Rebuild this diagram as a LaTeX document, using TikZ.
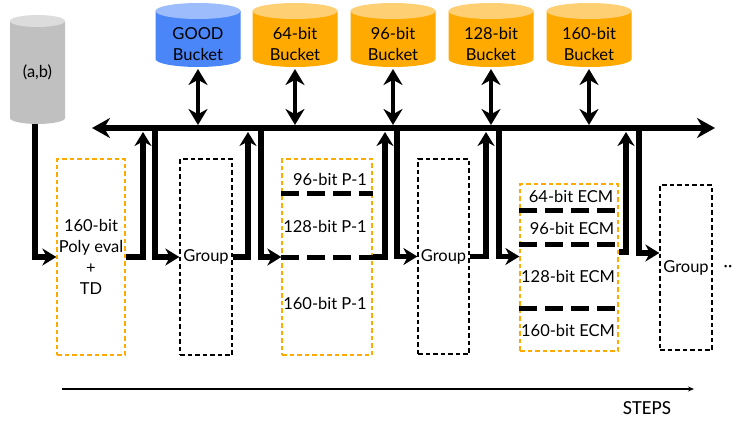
\documentclass[tikz,border=0pt]{standalone}
\usepackage{fontspec}
\setmainfont{Lato}
\newfontfamily\stepsfont{Carlito}
\usetikzlibrary{arrows.meta}

\definecolor{goodblue}{RGB}{74,134,247}
\definecolor{bitorange}{RGB}{255,170,0}
\definecolor{abgray}{RGB}{192,192,192}

\tikzset{
	stage/.style={draw=bitorange, line width=1.3pt, dash pattern=on 4.5pt off 3pt, inner sep=0pt, align=center},
	groupbox/.style={draw=black, line width=1.3pt, dash pattern=on 4.5pt off 3pt, inner sep=0pt},
	sepline/.style={line width=5pt, dash pattern=on 18pt off 8pt},
	bus/.style={line width=5.5pt, {Stealth[length=18pt,width=20pt]}-{Stealth[length=18pt,width=20pt]}},
	dbl/.style={line width=4pt, {Stealth[length=16pt,width=19pt]}-{Stealth[length=16pt,width=19pt]}},
	flow/.style={line width=5.5pt, line join=miter, -{Stealth[length=14pt,width=17pt]}}
}

\begin{document}
\begin{tikzpicture}[x=1pt,y=-1pt,font=\fontsize{16.5}{21}\selectfont]
	\useasboundingbox (0,0) rectangle (738,420);

	% storage
	\fill[abgray] (10,21) -- (10,118) arc[start angle=180,end angle=360,x radius=27.5pt,y radius=6pt] -- (65,21) -- cycle;
	\fill[abgray!55!white] (37.5,21) ellipse[x radius=27.5pt,y radius=6pt];
	\node (ab) at (37.5,72) {(a,b)};
	\coordinate (abbot) at (35,124);

	\foreach \b/\x/\t/\c in {good/198/GOOD/goodblue,b64/295/64-bit/bitorange,b96/393/96-bit/bitorange,
		b128/491/128-bit/bitorange,b160/589/160-bit/bitorange}{
		\fill[\c] (\x-42.5,11) -- (\x-42.5,59) arc[start angle=180,end angle=360,x radius=42.5pt,y radius=8pt] -- (\x+42.5,11) -- cycle;
		\fill[\c!55!white] (\x,11) ellipse[x radius=42.5pt,y radius=8pt];
		\node[align=center] (\b) at (\x,44) {\t\\Bucket};
		\coordinate (\b bot) at (\x,69);
	}

	\coordinate (busL) at (92,128);
	\coordinate (busR) at (715,128);
	\draw[bus] (busL) -- (busR);
	\foreach \b in {good,b64,b96,b128,b160}
		\draw[dbl] (\b bot) -- ([yshift=3pt]\b bot |- busL);

	% stages
	\node[stage, minimum width=68pt, minimum height=196pt] (poly) at (91,257) {160-bit\\Poly eval\\+\\TD};
	\node[groupbox, minimum width=52pt, minimum height=196pt] (grp1) at (206,257) {Group};
	\node[stage, minimum width=90pt, minimum height=196pt] (pbox) at (327,257) {};
	\node[groupbox, minimum width=51pt, minimum height=195pt] (grp2) at (443.5,256.5) {Group};
	\node[stage, minimum width=98pt, minimum height=167pt] (ecm) at (569,267.5) {};
	\node[groupbox, minimum width=52pt, minimum height=165pt] (grp3) at (686,267.5) {Group};
	\node (more) at (728,268) {··};

	\node (p96) at (330,179) {96-bit P-1};
	\node (p128) at (325,226) {128-bit P-1};
	\node (p160) at (325,303) {160-bit P-1};
	\draw[sepline] (pbox.west |- 0,193) -- (pbox.east |- 0,193);
	\draw[sepline] (pbox.west |- 0,257) -- (pbox.east |- 0,257);

	\node (e64) at (571,196) {64-bit ECM};
	\node (e96) at (572,228) {96-bit ECM};
	\node (e128) at (568,276) {128-bit ECM};
	\node (e160) at (568,330) {160-bit ECM};
	\draw[sepline] (ecm.west |- 0,210) -- (ecm.east |- 0,210);
	\draw[sepline] (ecm.west |- 0,244) -- (ecm.east |- 0,244);
	\draw[sepline] (ecm.west |- 0,308) -- (ecm.east |- 0,308);

	% flow through the bus
	\coordinate (up1) at (143,132);
	\coordinate (dn1) at (155,128);
	\coordinate (up2) at (248,132);
	\coordinate (dn2) at (261,128);
	\coordinate (up3) at (385,132);
	\coordinate (dn3) at (397,128);
	\coordinate (up4) at (486,132);
	\coordinate (dn4) at (499,128);
	\coordinate (up5) at (626,132);
	\coordinate (dn5) at (639,128);

	\draw[flow] (abbot) |- (poly.west);
	\draw[flow] (poly.east) -| (up1);
	\draw[flow] (dn1) |- (grp1.west);
	\draw[flow] (grp1.east) -| (up2);
	\draw[flow] (dn2) |- (pbox.west);
	\draw[flow] (pbox.east) -| (up3);
	\draw[flow] (dn3) |- (grp2.west);
	\draw[flow] (grp2.east) -| (up4);
	\draw[flow] (dn4) |- (ecm.west |- grp2.west);
	\draw[flow] (ecm.east |- 0,252) -| (up5);
	\draw[flow] (dn5) |- (grp3.west |- 0,253);

	% time axis
	\coordinate (st0) at (62,389);
	\coordinate (st1) at (694,389);
	\draw[line width=1.3pt, -{Stealth[length=6pt,width=5pt]}] (st0) -- (st1);
	\node[font=\stepsfont\fontsize{20}{22}\selectfont] (steps) at (647,408) {STEPS};
\end{tikzpicture}
\end{document}
